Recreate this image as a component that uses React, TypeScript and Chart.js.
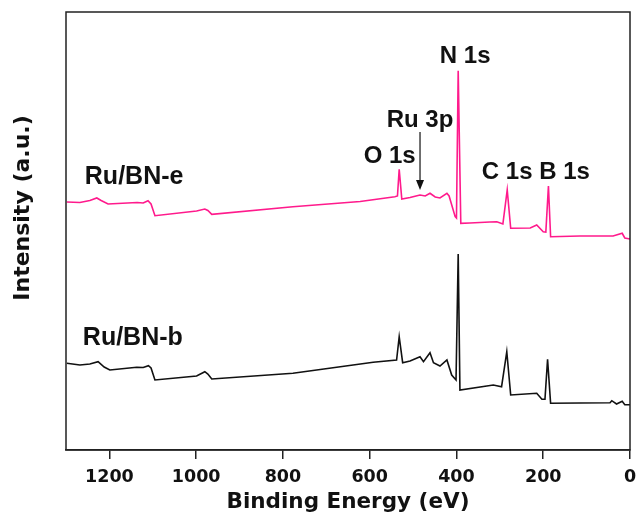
import React, { useEffect, useRef } from "react";
import { Chart, registerables } from "chart.js";

Chart.register(...registerables);

// ---- data (binding energy in eV, intensity in arbitrary units) ----
const X_TICKS = [1200, 1000, 800, 600, 400, 200, 0];

const E_ENERGY = [1298, 1268, 1245, 1229, 1219, 1203, 1136, 1122, 1111, 1104, 1095, 999, 980, 973, 964, 777, 622, 542, 536, 532, 526, 507, 484, 472, 461, 449, 438, 422, 417, 403, 400, 396, 390, 369, 323, 307, 293, 283, 275, 230, 215, 200, 194, 188, 183, 115, 39, 18, 12, 0];
const E_INTENSITY = [248, 247.5, 249.5, 252, 249.5, 246, 247.5, 247, 249.3, 246, 234.3, 239, 241, 239.5, 235.7, 243.3, 248.5, 253.3, 254, 280.7, 251, 252.5, 255, 254, 256.7, 253, 252, 256.7, 254, 233.3, 232, 379.3, 226.7, 227, 228, 228.3, 226, 260, 221.7, 222, 225, 218.3, 218, 264, 213.3, 214, 214, 216.7, 212, 211];

const B_ENERGY = [1298, 1268, 1245, 1226, 1212, 1199, 1137, 1122, 1110, 1104, 1095, 999, 980, 973, 964, 777, 592, 538, 532, 524, 507, 484, 476, 461, 453, 438, 422, 411, 401, 396, 392, 315, 296, 284, 275, 215, 203, 196, 190, 183, 46, 42, 31, 18, 12, 0];
const B_INTENSITY = [86.7, 85, 86, 88.3, 83, 80, 82.7, 82.5, 84.3, 82, 70, 74, 78.3, 76, 71, 76.7, 87.7, 90, 113.3, 87.3, 89, 93.3, 88.3, 97.3, 87.3, 84, 90, 75, 70, 196, 60, 65, 63.3, 98.3, 55, 56.7, 50.7, 50.7, 90.7, 46.7, 47.3, 49.3, 46, 48.7, 45.3, 45.3];

const SERIES_NAMES = ["Ru/BN-e", "Ru/BN-b"];
const SERIES_LABEL_ENERGY = [1143, 1146];
const SERIES_LABEL_INTENSITY = [275, 114];

const PEAK_LABELS = ["N 1s", "Ru 3p", "O 1s", "C 1s", "B 1s"];
const PEAK_LABEL_ENERGY = [380, 484, 554, 283, 151];
const PEAK_LABEL_INTENSITY = [396, 332, 296, 280, 280];

const ARROW_ENERGY = 484;
const ARROW_FROM = 318;
const ARROW_TO = 260;

const PINK = "#ff1a8c";
const INK = "#111111";

const overlay = {
  id: "overlay",
  afterDraw(chart: any) {
    const { ctx, chartArea: a, scales } = chart;
    const x = scales.x;
    const y = scales.y;
    ctx.save();
    // frame
    ctx.strokeStyle = "#222";
    ctx.lineWidth = 1.5;
    ctx.strokeRect(a.left, a.top, a.right - a.left, a.bottom - a.top);

    // arrow
    const ax = x.getPixelForValue(ARROW_ENERGY);
    const ay0 = y.getPixelForValue(ARROW_FROM);
    const ay1 = y.getPixelForValue(ARROW_TO);
    ctx.strokeStyle = INK;
    ctx.lineWidth = 1.2;
    ctx.beginPath();
    ctx.moveTo(ax, ay0);
    ctx.lineTo(ax, ay1 - 6);
    ctx.stroke();
    ctx.fillStyle = INK;
    ctx.beginPath();
    ctx.moveTo(ax, ay1);
    ctx.lineTo(ax - 4, ay1 - 10);
    ctx.lineTo(ax + 4, ay1 - 10);
    ctx.closePath();
    ctx.fill();

    // labels
    ctx.fillStyle = INK;
    ctx.textAlign = "center";
    ctx.textBaseline = "alphabetic";
    ctx.font = 'bold 24px "Liberation Sans", Arial, sans-serif';
    PEAK_LABELS.forEach((t, i) => {
      const px = x.getPixelForValue(PEAK_LABEL_ENERGY[i]);
      const py = y.getPixelForValue(PEAK_LABEL_INTENSITY[i]);
      ctx.fillText(t, px, py + 0.358 * 24);
    });
    ctx.font = 'bold 25px "Liberation Sans", Arial, sans-serif';
    SERIES_NAMES.forEach((t, i) => {
      const px = x.getPixelForValue(SERIES_LABEL_ENERGY[i]);
      const py = y.getPixelForValue(SERIES_LABEL_INTENSITY[i]);
      ctx.fillText(t, px, py + 0.358 * 25);
    });

    // y axis title
    ctx.translate(23, 208);
    ctx.rotate(-Math.PI / 2);
    ctx.font = 'bold 22px "DejaVu Sans", sans-serif';
    ctx.textBaseline = "middle";
    ctx.fillText("Intensity (a.u.)", 0, 0);
    ctx.restore();
  },
};

export default function App() {
  const ref = useRef<HTMLCanvasElement | null>(null);
  useEffect(() => {
    if (!ref.current) return;
    const chart = new Chart(ref.current, {
      type: "line",
      data: {
        datasets: [
          {
            label: SERIES_NAMES[0],
            data: E_ENERGY.map((e, i) => ({ x: e, y: E_INTENSITY[i] })),
            borderColor: PINK,
            borderWidth: 1.6,
            pointRadius: 0,
            tension: 0,
            fill: false,
          },
          {
            label: SERIES_NAMES[1],
            data: B_ENERGY.map((e, i) => ({ x: e, y: B_INTENSITY[i] })),
            borderColor: INK,
            borderWidth: 1.6,
            pointRadius: 0,
            tension: 0,
            fill: false,
          },
        ],
      },
      options: {
        animation: false,
        responsive: false,
        devicePixelRatio: 1,
        layout: { padding: { left: 66, right: 9, top: 12, bottom: 0 } },
        plugins: { legend: { display: false }, tooltip: { enabled: false } },
        scales: {
          x: {
            type: "linear",
            min: 0,
            max: 1300,
            reverse: true,
            afterBuildTicks: (scale: any) => {
              scale.ticks = X_TICKS.map((v) => ({ value: v }));
            },
            afterFit: (scale: any) => {
              scale.height = 66;
              scale.paddingLeft = 0;
              scale.paddingRight = 0;
            },
            grid: {
              drawOnChartArea: false,
              drawTicks: true,
              tickLength: 9,
              color: "#222",
              lineWidth: 1.5,
            },
            border: { display: true, color: "#222", width: 1.5 },
            ticks: {
              color: INK,
              padding: 8,
              maxRotation: 0,
              autoSkip: false,
              callback: (v: any) => String(v),
              font: { family: "'DejaVu Sans', sans-serif", weight: "bold", size: 17.5 },
            },
            title: {
              display: true,
              text: "Binding Energy (eV)",
              color: INK,
              padding: { top: 0, bottom: 1 },
              font: { family: "'DejaVu Sans', sans-serif", weight: "bold", size: 21.5 },
            },
          },
          y: {
            type: "linear",
            min: 0,
            max: 438,
            display: false,
          },
        },
      },
      plugins: [overlay],
    } as any);
    return () => chart.destroy();
  }, []);
  return (
    <div style={{ position: "fixed", left: 0, top: 0, width: 639, height: 516, background: "#fff" }}>
      <canvas ref={ref} width={639} height={516} />
    </div>
  );
}
